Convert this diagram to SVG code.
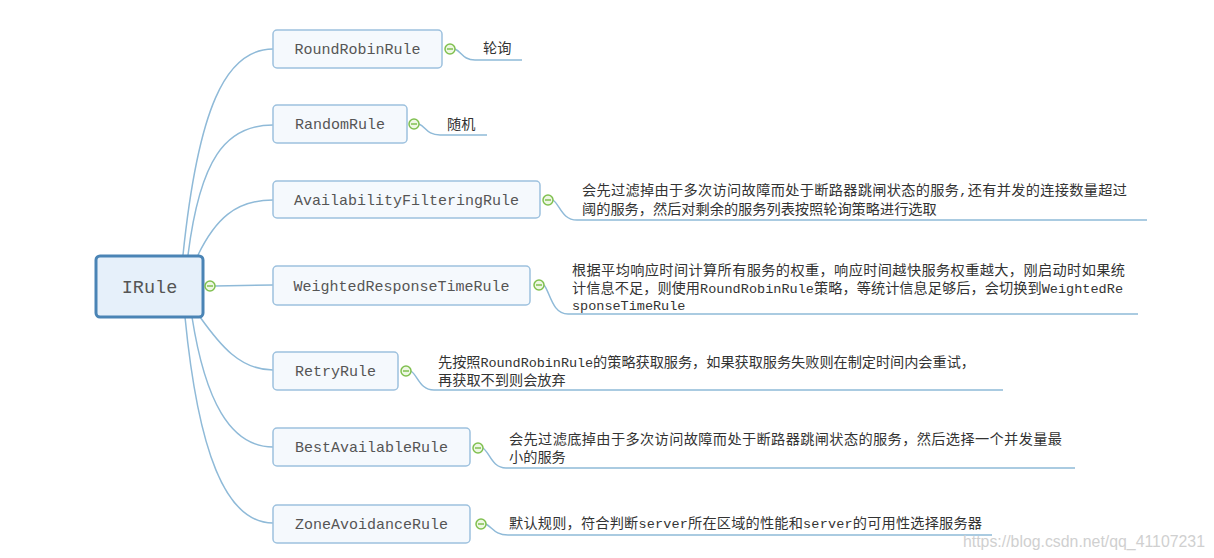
<svg xmlns="http://www.w3.org/2000/svg" width="1214" height="558" viewBox="0 0 1214 558">
<defs>
<style>
.conn{fill:none;stroke:#8fbad8;stroke-width:1.5}
.box{fill:#f5f9fd;stroke:#9dc1de;stroke-width:1.5}
.root{fill:#e6f0fa;stroke:#4a84b5;stroke-width:3}
.lbl{font-family:"Liberation Mono",monospace;font-size:15px;fill:#555;text-anchor:middle}
.rlbl{font-family:"Liberation Mono",monospace;font-size:18.5px;fill:#555;text-anchor:middle}
.tgc{fill:#eef7e4;stroke:#80c050;stroke-width:1.5}
.tgl{stroke:#80c050;stroke-width:1.5}
.desc{font-family:"Noto Sans CJK SC","Noto Sans CJK JP",sans-serif;font-size:14.2px;fill:#333}
.lat{font-family:"Liberation Mono",monospace;font-size:13.5px}
.wm{font-family:"Liberation Sans",Arial,sans-serif;font-size:16px;fill:#d0d0d0}
</style>
<g id="tg"><circle class="tgc" cx="0" cy="0" r="5"/><line class="tgl" x1="-3" y1="0" x2="3" y2="0"/></g>
</defs>
<rect width="1214" height="558" fill="#ffffff"/>

<g id="connectors">
<path class="conn" d="M183,255 C198,110 225,49 273,49"/>
<path class="conn" d="M188,255 C200,160 225,125 273,125"/>
<path class="conn" d="M198,255 C215,220 235,200 273,200"/>
<path class="conn" d="M215,286 L273,285"/>
<path class="conn" d="M200,317 C220,345 240,370 273,370"/>
<path class="conn" d="M192,317 C205,400 230,447 273,447"/>
<path class="conn" d="M185,317 C198,450 225,523 273,523"/>
<path class="conn" d="M455,49 C462,52 463,60 475,60 L522,60"/>
<path class="conn" d="M419,124 C426,127 427,135 440,135 L487,135"/>
<path class="conn" d="M553,200 C560,205 562,220 577,220 L1147,220"/>
<path class="conn" d="M544,285 C550,292 552,314 568,314 L1138,314"/>
<path class="conn" d="M411,371 C418,376 420,390 434,390 L1003,390"/>
<path class="conn" d="M483,448 C490,453 492,468 506,468 L1075,468"/>
<path class="conn" d="M486,524 C493,528 495,535 508,535 L992,535"/>
</g>

<g id="node-irule">
<rect class="root" x="96" y="256" width="107" height="61" rx="4"/>
<text class="rlbl" x="149.5" y="292.5">IRule</text>
<use href="#tg" x="210" y="286"/>
</g>

<g id="node-roundrobin">
<rect class="box" x="273" y="30" width="169" height="38" rx="4"/>
<text class="lbl" x="357.5" y="54">RoundRobinRule</text>
<use href="#tg" x="450" y="49"/>
</g>
<g id="desc-roundrobin"><text class="desc" x="483" y="53">轮询</text></g>

<g id="node-random">
<rect class="box" x="273" y="105" width="134" height="38" rx="4"/>
<text class="lbl" x="340" y="129">RandomRule</text>
<use href="#tg" x="414" y="124"/>
</g>
<g id="desc-random"><text class="desc" x="447" y="129">随机</text></g>

<g id="node-availability">
<rect class="box" x="273" y="181" width="267" height="37" rx="4"/>
<text class="lbl" x="406.5" y="205">AvailabilityFilteringRule</text>
<use href="#tg" x="548" y="200"/>
</g>
<g id="desc-availability">
<text class="desc" x="582" y="195" textLength="545" lengthAdjust="spacing">会先过滤掉由于多次访问故障而处于断路器跳闸状态的服务<tspan class="lat">,</tspan>还有并发的连接数量超过</text>
<text class="desc" x="582" y="214">阈的服务，然后对剩余的服务列表按照轮询策略进行选取</text>
</g>

<g id="node-weighted">
<rect class="box" x="273" y="266" width="257" height="39" rx="4"/>
<text class="lbl" x="401.5" y="291">WeightedResponseTimeRule</text>
<use href="#tg" x="539" y="285"/>
</g>
<g id="desc-weighted">
<text class="desc" x="572" y="275" textLength="553" lengthAdjust="spacing">根据平均响应时间计算所有服务的权重，响应时间越快服务权重越大，刚启动时如果统</text>
<text class="desc" x="572" y="293" textLength="551" lengthAdjust="spacing">计信息不足，则使用<tspan class="lat">RoundRobinRule</tspan>策略，等统计信息足够后，会切换到<tspan class="lat">WeightedRe</tspan></text>
<text class="desc" x="572" y="310"><tspan class="lat">sponseTimeRule</tspan></text>
</g>

<g id="node-retry">
<rect class="box" x="273" y="352" width="125" height="38" rx="4"/>
<text class="lbl" x="335.5" y="376">RetryRule</text>
<use href="#tg" x="406" y="371"/>
</g>
<g id="desc-retry">
<text class="desc" x="438" y="367" textLength="537" lengthAdjust="spacing">先按照<tspan class="lat">RoundRobinRule</tspan>的策略获取服务，如果获取服务失败则在制定时间内会重试，</text>
<text class="desc" x="438" y="385">再获取不到则会放弃</text>
</g>

<g id="node-best">
<rect class="box" x="273" y="428" width="197" height="38" rx="4"/>
<text class="lbl" x="371.5" y="452">BestAvailableRule</text>
<use href="#tg" x="478" y="448"/>
</g>
<g id="desc-best">
<text class="desc" x="509" y="444" textLength="553" lengthAdjust="spacing">会先过滤底掉由于多次访问故障而处于断路器跳闸状态的服务，然后选择一个并发量最</text>
<text class="desc" x="509" y="462">小的服务</text>
</g>

<g id="node-zone">
<rect class="box" x="273" y="505" width="197" height="38" rx="4"/>
<text class="lbl" x="371.5" y="529">ZoneAvoidanceRule</text>
<use href="#tg" x="481" y="524"/>
</g>
<g id="desc-zone">
<text class="desc" x="509" y="528" textLength="473" lengthAdjust="spacing">默认规则，符合判断<tspan class="lat">server</tspan>所在区域的性能和<tspan class="lat">server</tspan>的可用性选择服务器</text>
</g>

<text class="wm" x="963" y="547" textLength="242" lengthAdjust="spacingAndGlyphs">https://blog.csdn.net/qq_41107231</text>
</svg>
